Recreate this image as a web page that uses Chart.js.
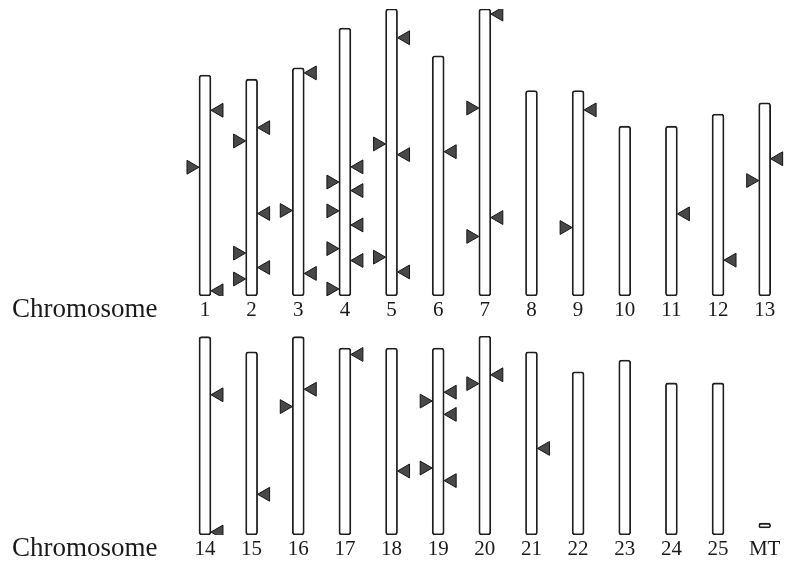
<!DOCTYPE html>
<html>
<head>
<meta charset="utf-8">
<script src="https://cdn.jsdelivr.net/npm/chart.js@4.4.1/dist/chart.umd.min.js"></script>
<style>
  body { margin: 0; background: #fff; }
  canvas { display: block; }
</style>
</head>
<body>
<canvas id="topRow" width="788" height="323"></canvas>
<canvas id="bottomRow" width="788" height="240"></canvas>
<script>
// chromosome lengths (Mb)
const topNames = ['1', '2', '3', '4', '5', '6', '7', '8', '9', '10', '11', '12', '13'];
const topLengths = [59.7, 58.6, 61.7, 72.4, 77.6, 64.9, 77.6, 55.5, 55.5, 45.9, 45.9, 49.2, 52.2];
const topBases = [0, 0, 0, 0, 0, 0, 0, 0, 0, 0, 0, 0, 0];

const bottomNames = ['14', '15', '16', '17', '18', '19', '20', '21', '22', '23', '24', '25', 'MT'];
const bottomLengths = [53.6, 49.5, 53.6, 50.5, 50.5, 50.5, 53.8, 49.5, 44.1, 47.3, 41.1, 41.1, 3.2];
const bottomBases = [0, 0, 0, 0, 0, 0, 0, 0, 0, 0, 0, 0, 1.9];

// sites: [chromosome, position from the top of the chromosome in Mb]
// left = marker on the left side (points right), right = on the right side (points left)
const leftSites = [
  ['1', 24.9], ['2', 16.7], ['2', 47.0], ['2', 54.0], ['3', 38.6],
  ['4', 41.6], ['4', 49.4], ['4', 59.6], ['4', 70.5], ['5', 36.5], ['5', 67.1],
  ['7', 26.8], ['7', 61.5], ['9', 37.0], ['13', 21.0],
  ['16', 18.9], ['19', 14.3], ['19', 32.4], ['20', 12.9]
];
const rightSites = [
  ['1', 9.5], ['1', 58.3], ['2', 13.1], ['2', 36.3], ['2', 50.9], ['3', 1.4], ['3', 55.6],
  ['4', 37.5], ['4', 43.9], ['4', 53.2], ['4', 62.8], ['5', 7.8], ['5', 39.4], ['5', 71.1],
  ['6', 25.9], ['7', 1.4], ['7', 56.4], ['9', 5.2], ['11', 23.7], ['12', 39.5], ['13', 15.1],
  ['14', 15.7], ['14', 52.8], ['15', 38.5], ['16', 14.2], ['17', 1.7], ['18', 33.2],
  ['19', 11.9], ['19', 17.9], ['19', 35.8], ['20', 10.5], ['21', 26.1]
];

const PX_PER_MB = 3.7;
const SIDE = 0.3; // marker offset from the bar centre, in x units
const serif = "'Liberation Serif', 'Times New Roman', serif";

const rowLabel = {
  id: 'rowLabel',
  afterDraw(chart) {
    const c = chart.ctx;
    c.save();
    c.font = '27px ' + serif;
    c.fillStyle = '#1a1a1a';
    c.textBaseline = 'alphabetic';
    c.fillText('Chromosome', 12, chart.chartArea.bottom + 21);
    c.restore();
  }
};

function sitePoints(sites, names, lengths, dx) {
  const out = [];
  sites.forEach(([chr, pos]) => {
    const i = names.indexOf(chr);
    if (i < 0) return;
    out.push({ x: i + 1 + dx, y: lengths[i] - pos });
  });
  return out;
}

function makeRow(id, names, lengths, bases, areaTop, areaHeight, axisHeight) {
  new Chart(document.getElementById(id), {
    type: 'bar',
    data: {
      datasets: [
        {
          type: 'scatter',
          data: sitePoints(leftSites, names, lengths, -SIDE),
          pointStyle: 'triangle',
          pointRotation: 90,
          pointRadius: 8,
          pointBackgroundColor: '#484848',
          pointBorderColor: '#151515',
          pointBorderWidth: 1
        },
        {
          type: 'scatter',
          data: sitePoints(rightSites, names, lengths, SIDE),
          pointStyle: 'triangle',
          pointRotation: -90,
          pointRadius: 8,
          pointBackgroundColor: '#484848',
          pointBorderColor: '#151515',
          pointBorderWidth: 1
        },
        {
          data: names.map((n, i) => ({ x: i + 1, y: [bases[i], lengths[i]] })),
          backgroundColor: '#fff',
          borderColor: '#1e1e1e',
          borderWidth: 1.8,
          borderRadius: 3,
          borderSkipped: false,
          barThickness: 12
        }
      ]
    },
    options: {
      responsive: false,
      animation: false,
      layout: { autoPadding: false, padding: { left: 170, top: areaTop, right: 0, bottom: 0 } },
      plugins: { legend: { display: false }, tooltip: { enabled: false } },
      scales: {
        x: {
          type: 'linear',
          offset: false,
          min: 0.25,
          max: 13.5,
          grid: { display: false, drawTicks: false },
          border: { display: false },
          afterBuildTicks: s => { s.ticks = names.map((n, i) => ({ value: i + 1 })); },
          afterFit: s => {
            s.height = axisHeight;
            s.paddingLeft = 0;
            s.paddingRight = 0;
          },
          ticks: {
            autoSkip: false,
            maxRotation: 0,
            padding: 2,
            color: '#1a1a1a',
            font: { family: serif, size: 21 },
            callback: v => names[Math.round(v) - 1]
          }
        },
        y: {
          display: false,
          min: 0,
          max: areaHeight / PX_PER_MB
        }
      }
    },
    plugins: [rowLabel]
  });
}

makeRow('topRow', topNames, topLengths, topBases, 9, 287, 27);
makeRow('bottomRow', bottomNames, bottomLengths, bottomBases, 13, 199, 28);
</script>
</body>
</html>
